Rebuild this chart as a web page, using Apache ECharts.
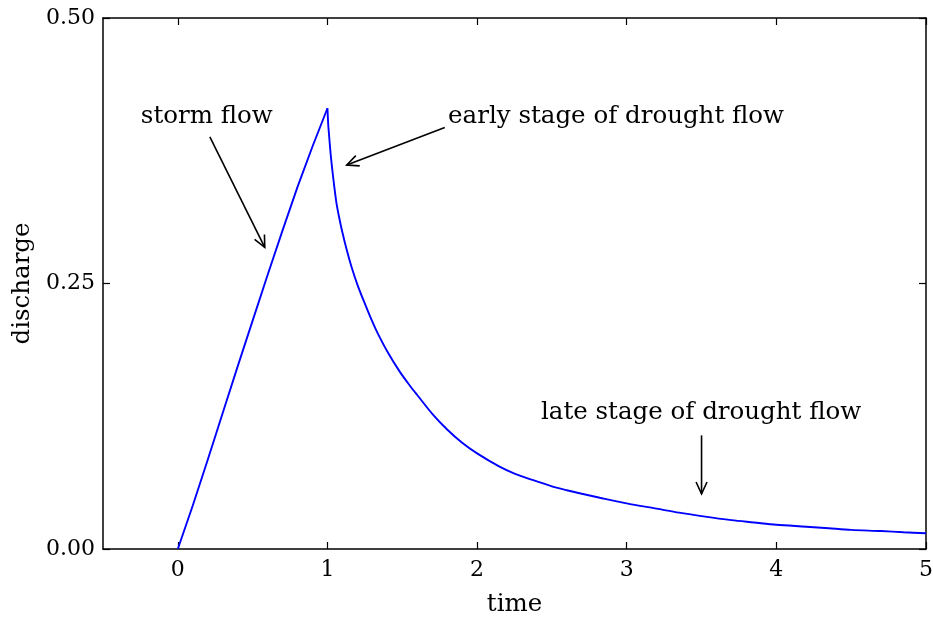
<!DOCTYPE html>
<html><head><meta charset="utf-8">
<script src="https://cdn.jsdelivr.net/npm/echarts@6/dist/echarts.min.js"></script>
<style>html,body{margin:0;padding:0;background:#fff}#c{width:933px;height:618px}</style>
</head><body><div id="c"></div>
<script>
// ---- data ----
// storm flow (rising limb)
const riseTime = [0,0.1,0.2,0.3,0.4,0.5,0.6,0.7,0.8,0.9,1.0];
const riseDischarge = [0,0.041,0.084,0.128,0.172,0.215,0.258,0.300,0.341,0.379,0.415];
// drought flow (recession limb)
const fallTime = [1.0,1.005,1.01,1.02,1.03,1.045,1.06,1.08,1.1,1.13,1.16,1.2,1.25,1.3,1.336,1.4,1.483,1.55,1.6,1.705,1.8,1.9,2.0,
  2.15,2.25,2.37,2.5,2.6,2.7,2.82,3.0,3.2,3.35,3.5,3.7,3.85,4.0,4.2,4.35,4.5,4.7,4.85,5.0];
const fallDischarge = [0.415,0.400,0.391,0.374,0.360,0.342,0.326,0.311,0.298,0.281,0.266,0.249,0.231,0.214,0.203,0.186,0.167,0.154,0.145,0.1265,0.1125,0.100,0.090,
  0.0775,0.071,0.065,0.059,0.0553,0.052,0.0483,0.043,0.038,0.0342,0.031,0.0272,0.025,0.0228,0.021,0.0195,0.018,0.0169,0.0158,0.0148];
const xTicks = [0,1,2,3,4,5];
const yTicks = [0,0.25,0.5];
const annoTexts = ['storm flow','early stage of drought flow','late stage of drought flow'];
const annoTextAt = [[0.194,0.407],[2.929,0.407],[3.497,0.128]];
const annoArrowFrom = [[0.214,0.388],[1.784,0.397],[3.5,0.107]];
const annoArrowTo = [[0.581,0.284],[1.129,0.3616],[3.5,0.052]];

const FONT = 'DejaVu Serif';
const FS = 22;   // tick labels
const FL = 24.5; // axis names and annotations
const chart = echarts.init(document.getElementById('c'), null, {renderer:'canvas'});
const lineAxis = {show:true, onZero:false, lineStyle:{color:'#000', width:1.5}};
const tickX = {show:true, inside:true, length:7, customValues:xTicks, lineStyle:{color:'#000', width:1.2}};
const tickY = {show:true, inside:true, length:7, customValues:yTicks, lineStyle:{color:'#000', width:1.2}};
const option = {
  animation:false,
  backgroundColor:'#fff',
  grid:{left:103, right:7, top:18, bottom:69, containLabel:false, outerBoundsMode:'none'},
  xAxis:[
    {type:'value', min:-0.5, max:5, position:'bottom', axisLine:lineAxis, axisTick:tickX,
     splitLine:{show:false},
     axisLabel:{customValues:xTicks, color:'#000', fontFamily:FONT, fontSize:FS, margin:10, formatter:v=>String(Math.round(v))},
     name:'time', nameLocation:'middle', nameGap:43, nameTextStyle:{color:'#000', fontFamily:FONT, fontSize:FL}},
    {type:'value', min:-0.5, max:5, position:'top', axisLine:lineAxis, axisTick:tickX,
     splitLine:{show:false}, axisLabel:{show:false}}
  ],
  yAxis:[
    {type:'value', min:0, max:0.5, position:'left', axisLine:lineAxis, axisTick:tickY,
     splitLine:{show:false},
     axisLabel:{customValues:yTicks, color:'#000', fontFamily:FONT, fontSize:FS, margin:8, formatter:v=>v.toFixed(2)},
     name:'discharge', nameLocation:'middle', nameGap:68, nameRotate:90, nameTextStyle:{color:'#000', fontFamily:FONT, fontSize:FL}},
    {type:'value', min:0, max:0.5, position:'right', axisLine:lineAxis, axisTick:tickY,
     splitLine:{show:false}, axisLabel:{show:false}}
  ],
  series:[{
    type:'line', xAxisIndex:0, yAxisIndex:0, showSymbol:false, symbol:'none',
    data: riseTime.map((t,i)=>[t, riseDischarge[i]]),
    smooth:false,
    lineStyle:{color:'#0000ff', width:1.9}, z:3
  },{
    type:'line', xAxisIndex:0, yAxisIndex:0, showSymbol:false, symbol:'none',
    data: fallTime.map((t,i)=>[t, fallDischarge[i]]),
    smooth:0.3,
    lineStyle:{color:'#0000ff', width:1.9}, z:3
  }]
};
chart.setOption(option);

const g = [];
const headLen = 13, headAng = 25*Math.PI/180;
for (let i=0;i<annoTexts.length;i++){
  const tp = chart.convertToPixel({gridIndex:0}, annoTextAt[i]);
  g.push({type:'text', x:tp[0], y:tp[1], style:{text:annoTexts[i], fill:'#000', font:FL+'px "'+FONT+'"', align:'center', verticalAlign:'middle'}});
  const p0 = chart.convertToPixel({gridIndex:0}, annoArrowFrom[i]);
  const p1 = chart.convertToPixel({gridIndex:0}, annoArrowTo[i]);
  g.push({type:'line', shape:{x1:p0[0], y1:p0[1], x2:p1[0], y2:p1[1]}, style:{stroke:'#000', lineWidth:1.6}});
  const a = Math.atan2(p1[1]-p0[1], p1[0]-p0[0]);
  const l = [p1[0]-headLen*Math.cos(a-headAng), p1[1]-headLen*Math.sin(a-headAng)];
  const r = [p1[0]-headLen*Math.cos(a+headAng), p1[1]-headLen*Math.sin(a+headAng)];
  g.push({type:'polyline', shape:{points:[l, p1, r]}, style:{stroke:'#000', lineWidth:1.6, fill:null}});
}
chart.setOption({graphic:g});
</script>
</body></html>
